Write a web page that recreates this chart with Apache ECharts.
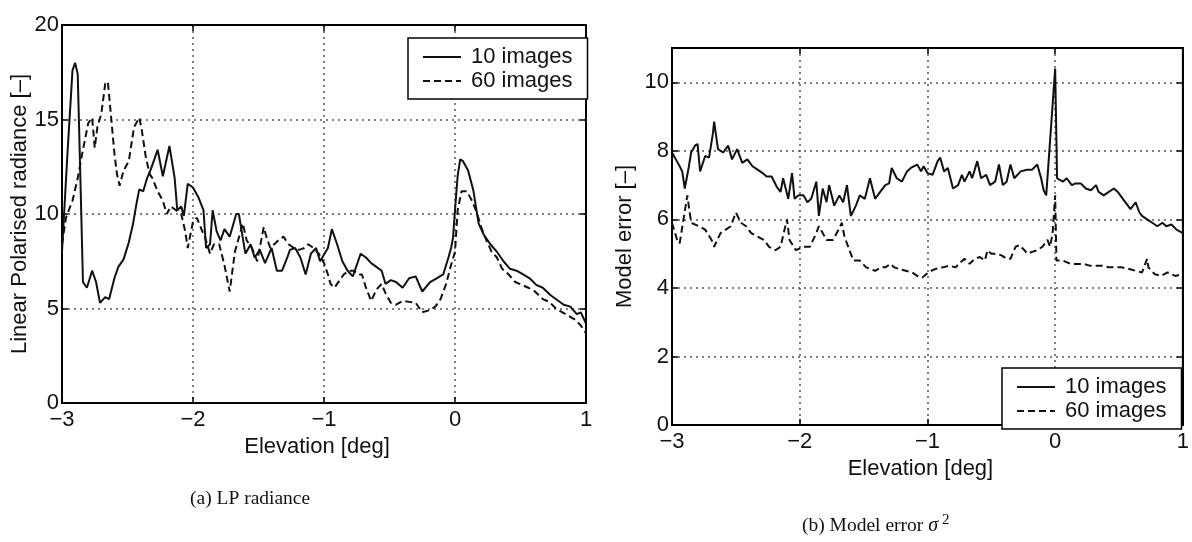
<!DOCTYPE html>
<html>
<head>
<meta charset="utf-8">
<script src="https://cdn.jsdelivr.net/npm/echarts@6/dist/echarts.min.js"></script>
<style>
html,body{margin:0;padding:0;background:#fff;}
#c{width:1192px;height:542px;}
</style>
</head>
<body>
<div id="c"></div>
<script>
// ---- data ----
const xTicks = [-3, -2, -1, 0, 1];
const seriesNames = ['10 images', '60 images'];

// (a) LP radiance, 10 images  [elevation, value]
const lp10 = [
[-3.00,8.0],[-2.96,13.0],[-2.92,17.6],[-2.90,18.0],[-2.88,17.4],[-2.86,12.0],[-2.84,6.4],[-2.81,6.1],
[-2.77,7.0],[-2.74,6.4],[-2.71,5.3],[-2.67,5.6],[-2.64,5.5],[-2.60,6.6],[-2.57,7.2],[-2.53,7.6],
[-2.49,8.5],[-2.46,9.4],[-2.43,10.6],[-2.41,11.3],[-2.38,11.2],[-2.35,11.9],[-2.32,12.4],[-2.29,13.0],
[-2.27,13.4],[-2.23,12.0],[-2.18,13.6],[-2.14,11.9],[-2.12,10.2],[-2.09,10.4],[-2.07,9.9],[-2.04,11.6],
[-2.00,11.4],[-1.96,10.9],[-1.92,10.2],[-1.90,8.2],[-1.87,8.4],[-1.85,10.2],[-1.82,9.1],[-1.79,8.6],
[-1.76,9.2],[-1.72,8.8],[-1.67,10.0],[-1.65,10.0],[-1.60,7.9],[-1.56,8.4],[-1.53,7.7],[-1.49,8.1],
[-1.45,7.4],[-1.40,8.2],[-1.36,7.0],[-1.32,7.0],[-1.28,7.7],[-1.26,8.1],[-1.22,8.2],[-1.18,7.7],
[-1.14,6.8],[-1.10,7.9],[-1.06,8.2],[-1.03,7.5],[-0.97,8.2],[-0.94,9.2],[-0.90,8.4],[-0.86,7.5],
[-0.82,7.0],[-0.78,6.7],[-0.74,7.5],[-0.72,7.9],[-0.68,7.7],[-0.64,7.4],[-0.60,7.2],[-0.56,7.0],
[-0.53,6.3],[-0.49,6.5],[-0.45,6.4],[-0.40,6.1],[-0.35,6.6],[-0.30,6.7],[-0.25,5.9],[-0.19,6.4],
[-0.14,6.6],[-0.09,6.8],[-0.05,7.7],[-0.03,8.2],[-0.015,8.75],[0.00,10.2],[0.02,12.0],[0.04,12.9],
[0.06,12.8],[0.10,12.3],[0.14,11.25],[0.18,9.5],[0.22,8.9],[0.27,8.4],[0.32,8.0],[0.37,7.5],
[0.42,7.1],[0.47,7.0],[0.52,6.8],[0.57,6.6],[0.62,6.25],[0.67,6.1],[0.73,5.7],[0.78,5.45],
[0.83,5.2],[0.88,5.1],[0.93,4.7],[0.96,4.8],[1.00,4.2]
];

// (a) LP radiance, 60 images
const lp60 = [
[-3.00,8.4],[-2.97,9.8],[-2.92,10.7],[-2.88,11.9],[-2.84,13.4],[-2.80,14.8],[-2.77,15.1],[-2.75,13.5],
[-2.73,14.6],[-2.70,15.3],[-2.67,16.9],[-2.65,17.0],[-2.63,15.5],[-2.60,13.2],[-2.58,12.1],[-2.56,11.5],
[-2.53,12.3],[-2.49,12.8],[-2.45,14.6],[-2.41,15.1],[-2.39,14.4],[-2.36,13.0],[-2.33,12.1],[-2.31,11.9],
[-2.27,11.2],[-2.23,10.7],[-2.20,10.0],[-2.17,10.4],[-2.13,10.2],[-2.09,10.0],[-2.06,9.1],[-2.04,8.2],
[-2.02,8.9],[-2.00,9.6],[-1.97,9.8],[-1.93,9.1],[-1.91,8.8],[-1.87,7.9],[-1.84,8.4],[-1.80,8.4],
[-1.76,7.3],[-1.72,5.9],[-1.68,8.0],[-1.62,9.5],[-1.59,8.6],[-1.55,8.2],[-1.51,7.5],[-1.46,9.3],
[-1.44,8.8],[-1.41,8.2],[-1.38,8.4],[-1.35,8.6],[-1.31,8.8],[-1.27,8.4],[-1.23,8.2],[-1.19,8.1],
[-1.15,8.2],[-1.12,8.4],[-1.08,8.2],[-1.04,7.9],[-1.00,7.4],[-0.97,6.8],[-0.95,6.3],[-0.92,6.1],
[-0.88,6.5],[-0.85,6.8],[-0.81,7.0],[-0.77,7.0],[-0.74,6.8],[-0.71,6.8],[-0.68,6.1],[-0.64,5.4],
[-0.60,6.0],[-0.56,6.3],[-0.53,5.8],[-0.49,5.3],[-0.45,5.2],[-0.40,5.4],[-0.35,5.35],[-0.30,5.3],
[-0.25,4.8],[-0.20,4.9],[-0.15,5.1],[-0.11,5.5],[-0.07,6.25],[-0.03,7.3],[0.00,8.0],[0.02,10.2],
[0.05,11.2],[0.09,11.2],[0.13,10.7],[0.17,10.0],[0.20,9.3],[0.24,8.6],[0.28,8.0],[0.32,7.7],
[0.36,7.1],[0.41,6.8],[0.46,6.4],[0.51,6.25],[0.56,6.1],[0.61,5.9],[0.67,5.5],[0.72,5.35],
[0.77,5.0],[0.82,4.8],[0.87,4.6],[0.92,4.4],[0.96,4.1],[1.00,3.7]
];

// (b) Model error, 10 images
const me10 = [
[-3.00,7.95],[-2.97,7.75],[-2.94,7.55],[-2.92,7.4],[-2.90,6.9],[-2.87,7.5],[-2.85,7.95],[-2.82,8.15],
[-2.80,8.2],[-2.78,7.4],[-2.74,7.85],[-2.71,7.8],[-2.68,8.5],[-2.67,8.85],[-2.64,8.05],[-2.60,7.95],
[-2.56,8.15],[-2.53,7.75],[-2.49,8.05],[-2.45,7.65],[-2.41,7.75],[-2.37,7.55],[-2.33,7.45],[-2.29,7.35],
[-2.26,7.25],[-2.22,7.25],[-2.18,6.95],[-2.15,6.8],[-2.13,7.2],[-2.09,6.6],[-2.06,7.35],[-2.04,6.6],
[-2.01,6.7],[-1.97,6.7],[-1.94,6.5],[-1.91,6.6],[-1.87,7.1],[-1.85,6.1],[-1.82,6.9],[-1.79,6.5],
[-1.77,7.0],[-1.73,6.4],[-1.69,6.7],[-1.66,6.5],[-1.63,7.0],[-1.60,6.1],[-1.56,6.4],[-1.53,6.7],
[-1.49,6.6],[-1.45,7.2],[-1.41,6.6],[-1.37,6.8],[-1.33,7.0],[-1.30,7.05],[-1.28,7.5],[-1.24,7.2],
[-1.20,7.1],[-1.16,7.4],[-1.13,7.5],[-1.08,7.6],[-1.05,7.4],[-1.03,7.55],[-1.00,7.35],[-0.96,7.3],
[-0.92,7.7],[-0.90,7.8],[-0.87,7.4],[-0.84,7.5],[-0.80,6.9],[-0.76,7.0],[-0.73,7.3],[-0.71,7.1],
[-0.67,7.4],[-0.65,7.2],[-0.61,7.7],[-0.58,7.2],[-0.54,7.3],[-0.51,7.0],[-0.47,7.1],[-0.44,7.6],
[-0.41,7.0],[-0.38,7.1],[-0.35,7.6],[-0.32,7.2],[-0.27,7.4],[-0.22,7.45],[-0.18,7.45],[-0.14,7.6],
[-0.11,7.2],[-0.09,6.85],[-0.07,6.7],[0.00,10.4],[0.015,7.2],[0.03,7.25],[0.06,7.1],[0.09,7.2],
[0.13,7.0],[0.16,7.05],[0.20,7.05],[0.24,6.9],[0.28,6.85],[0.32,7.0],[0.34,6.8],[0.38,6.7],
[0.42,6.8],[0.46,6.9],[0.49,6.8],[0.53,6.6],[0.57,6.4],[0.59,6.3],[0.63,6.5],[0.66,6.2],
[0.68,6.1],[0.72,6.0],[0.76,5.9],[0.80,5.8],[0.84,5.9],[0.87,5.8],[0.91,5.85],[0.95,5.7],[1.00,5.6]
];

// (b) Model error, 60 images
const me60 = [
[-3.00,5.9],[-2.96,5.4],[-2.94,5.3],[-2.91,6.0],[-2.88,6.7],[-2.85,5.9],[-2.79,5.8],[-2.74,5.7],
[-2.69,5.4],[-2.67,5.2],[-2.62,5.6],[-2.54,5.8],[-2.50,6.2],[-2.46,5.9],[-2.42,5.8],[-2.38,5.6],
[-2.33,5.5],[-2.28,5.4],[-2.24,5.2],[-2.19,5.1],[-2.15,5.2],[-2.10,6.0],[-2.08,5.4],[-2.03,5.1],
[-1.97,5.2],[-1.92,5.2],[-1.87,5.6],[-1.85,5.8],[-1.79,5.4],[-1.74,5.4],[-1.71,5.6],[-1.67,5.9],
[-1.65,5.5],[-1.62,5.2],[-1.58,4.8],[-1.53,4.8],[-1.48,4.6],[-1.41,4.5],[-1.36,4.6],[-1.33,4.6],
[-1.29,4.7],[-1.26,4.6],[-1.22,4.55],[-1.17,4.5],[-1.12,4.45],[-1.08,4.35],[-1.04,4.3],[-1.01,4.4],
[-0.97,4.5],[-0.94,4.55],[-0.88,4.6],[-0.83,4.65],[-0.78,4.6],[-0.74,4.75],[-0.71,4.85],[-0.67,4.7],
[-0.63,4.85],[-0.59,4.9],[-0.55,4.8],[-0.53,5.1],[-0.50,5.0],[-0.46,5.0],[-0.42,4.95],[-0.38,4.85],
[-0.35,4.85],[-0.31,5.2],[-0.28,5.25],[-0.24,5.1],[-0.22,5.0],[-0.18,5.05],[-0.14,5.1],[-0.10,5.2],
[-0.06,5.4],[-0.04,5.2],[-0.02,5.6],[0.00,6.7],[0.01,4.8],[0.06,4.8],[0.12,4.7],[0.17,4.7],
[0.22,4.7],[0.27,4.65],[0.32,4.65],[0.37,4.65],[0.42,4.6],[0.47,4.6],[0.52,4.6],[0.58,4.55],
[0.63,4.5],[0.68,4.45],[0.72,4.85],[0.73,4.6],[0.78,4.4],[0.83,4.35],[0.88,4.45],[0.94,4.35],[1.00,4.4]
];

// ---- chart ----
const FONT = '"Liberation Sans", Arial, Helvetica, sans-serif';
const SERIF = '"Liberation Serif", "Times New Roman", serif';
const fmt = v => (v < 0 ? '\u2212' + Math.abs(v) : String(v));
const GRID_LINE = { show: true, lineStyle: { color: '#555', width: 1.5, type: [2, 4] } };
const TICK = { show: true, inside: true, length: 6, lineStyle: { color: '#000', width: 1.5 } };
const AXLINE = { show: true, onZero: false, lineStyle: { color: '#000', width: 2 } };

function xAxis(gi) {
  return {
    type: 'value', gridIndex: gi, min: -3, max: 1, interval: 1,
    name: 'Elevation [deg]', nameLocation: 'middle', nameGap: 29,
    nameTextStyle: { fontFamily: FONT, fontSize: 22, color: '#111', padding: [0, 14, 0, 0] },
    axisLine: AXLINE, axisTick: TICK,
    axisLabel: { fontFamily: FONT, fontSize: 22, color: '#111', margin: 6, formatter: fmt },
    splitLine: GRID_LINE
  };
}
function xAxisMirror(gi) {
  return { type: 'value', gridIndex: gi, position: 'top', min: -3, max: 1, interval: 1,
    axisLine: AXLINE, axisTick: TICK, axisLabel: { show: false }, splitLine: { show: false } };
}
function yAxis(gi, max, interval, name, gap) {
  return {
    type: 'value', gridIndex: gi, min: 0, max: max, interval: interval,
    name: name, nameLocation: 'middle', nameGap: gap, nameRotate: 90,
    nameTextStyle: { fontFamily: FONT, fontSize: 22, color: '#111' },
    axisLine: AXLINE, axisTick: TICK,
    axisLabel: { fontFamily: FONT, fontSize: 22, color: '#111', margin: 3, showMaxLabel: max !== 11, formatter: fmt },
    splitLine: GRID_LINE
  };
}
function yAxisMirror(gi, max, interval) {
  return { type: 'value', gridIndex: gi, position: 'right', min: 0, max: max, interval: interval,
    axisLine: AXLINE, axisTick: TICK, axisLabel: { show: false }, splitLine: { show: false } };
}
function line(name, data, gi, dashed) {
  return {
    type: 'line', name: name, data: data, xAxisIndex: gi, yAxisIndex: gi,
    symbol: 'none', showSymbol: false, animation: false,
    lineStyle: { color: '#111', width: 2, type: dashed ? [7, 4] : 'solid' },
    itemStyle: { color: '#111' }
  };
}
function legend(left, top) {
  return {
    data: seriesNames, orient: 'vertical', left: left, top: top,
    itemWidth: 38, itemHeight: 14, itemGap: 2,
    padding: [8, 15, 7, 14],
    borderColor: '#000', borderWidth: 1.5, backgroundColor: '#fff',
    selectedMode: false,
    itemStyle: { opacity: 0 },
    textStyle: { fontFamily: FONT, fontSize: 22, color: '#111', padding: [0, 0, 0, 5] }
  };
}

const chart = echarts.init(document.getElementById('c'), null, { renderer: 'canvas' });
chart.setOption({
  backgroundColor: '#fff',
  animation: false,
  title: [
    { text: '(a) LP radiance', left: 185, top: 484,
      textStyle: { fontFamily: SERIF, fontSize: 19.5, fontWeight: 'normal', color: '#111' } },
    { text: '{n|(b) Model error }{s|σ}{p|2}', left: 797, top: 508,
      textStyle: { fontFamily: SERIF, fontSize: 19.5, fontWeight: 'normal', color: '#111',
        rich: {
          n: { fontFamily: SERIF, fontSize: 19.5, color: '#111' },
          s: { fontFamily: SERIF, fontSize: 20, fontStyle: 'italic', color: '#111' },
          p: { fontFamily: SERIF, fontSize: 15, color: '#111', verticalAlign: 'top', padding: [0, 0, 10, 4] }
        } } }
  ],
  grid: [
    { left: 62, top: 25, width: 524, height: 378, show: true, borderColor: '#000', borderWidth: 2, containLabel: false },
    { left: 672, top: 48, width: 518, height: 377, show: true, borderColor: '#000', borderWidth: 2, containLabel: false }
  ],
  xAxis: [xAxis(0), xAxis(1), xAxisMirror(0), xAxisMirror(1)],
  yAxis: [
    yAxis(0, 20, 5, 'Linear Polarised radiance [\u2013]', 23),
    yAxis(1, 11, 2, 'Model error [\u2013]', 36),
    yAxisMirror(0, 20, 5),
    yAxisMirror(1, 11, 2)
  ],
  legend: [legend(408, 38), legend(1002, 368)],
  series: [
    line(seriesNames[0], lp10, 0, false),
    line(seriesNames[1], lp60, 0, true),
    line(seriesNames[0], me10, 1, false),
    line(seriesNames[1], me60, 1, true)
  ]
});
</script>
</body>
</html>
